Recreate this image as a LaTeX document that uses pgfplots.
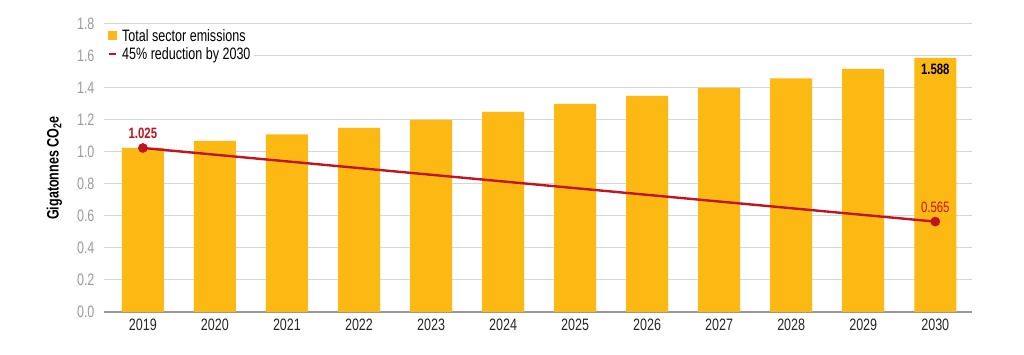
\documentclass[border=0pt]{standalone}
\usepackage{pgfplots}
\pgfplotsset{compat=1.18}
\usepackage{fontspec}
\setmainfont[FakeStretch=0.76]{Liberation Sans}
\definecolor{baryel}{HTML}{FDB913}
\definecolor{linered}{HTML}{C0141F}
\definecolor{tickgray}{HTML}{9A9A9A}
\definecolor{gridgray}{HTML}{D6D6D6}
\begin{document}
\begin{tikzpicture}[x=1pt,y=1pt]
\path[use as bounding box] (0,0) rectangle (1024,355);
\begin{axis}[
  at={(104pt,43pt)}, anchor=south west,
  width=868pt, height=288pt, scale only axis,
  xmin=-0.54, xmax=11.51,
  ymin=0, ymax=1.8,
  ytick={0,0.2,...,1.8},
  /pgf/number format/assume math mode=true,
  yticklabel style={/pgf/number format/fixed, /pgf/number format/fixed zerofill, /pgf/number format/precision=1},
  xtick={0,...,11},
  xticklabels={2019,2020,2021,2022,2023,2024,2025,2026,2027,2028,2029,2030},
  tick label style={font=\fontsize{16.5}{18}\selectfont},
  yticklabel style={text=tickgray, xshift=-6pt},
  xticklabel style={text=black!85, yshift=-3pt},
  ymajorgrids, grid style={gridgray, line width=1pt},
  major tick length=0pt,
  axis x line*=bottom, axis y line*=left,
  x axis line style={draw=gray!80, line width=1.3pt, -},
  y axis line style={draw=none},
  ylabel={\textbf{Gigatonnes CO\textsubscript{2}e}},
  ylabel style={font=\fontsize{16.5}{18}\selectfont, yshift=8pt},
  legend style={at={(0,1)}, anchor=north west, draw=none, fill=white,
    font=\fontsize{16.5}{19}\selectfont, cells={anchor=west}, xshift=0pt, yshift=-1pt,
    inner sep=2pt, row sep=1pt},
  clip=false,
]
\addplot[ybar, bar width=42pt, fill=baryel, draw=none, forget plot] coordinates {
 (0,1.025) (1,1.07) (2,1.11) (3,1.15) (4,1.20) (5,1.25) (6,1.30) (7,1.35) (8,1.40) (9,1.46) (10,1.52) (11,1.588)};
\addlegendimage{legend image code/.code={\path[draw=none,fill=none] (0pt,0pt) -- (14pt,0pt); \fill[baryel,draw=none] (2pt,-4.5pt) rectangle (11pt,4.5pt);}}
\addlegendentry{Total sector emissions}
\addlegendimage{legend image code/.code={\path[draw=none,fill=none] (0pt,0pt) -- (14pt,0pt); \draw[linered, line width=2pt] (3pt,0pt) -- (10pt,0pt);}}
\addlegendentry{45\% reduction by 2030}
\addplot[linered, line width=2.4pt, mark=*, mark size=3.6pt, mark options={fill=linered, draw=linered}, forget plot] coordinates {(0,1.025) (11,0.565)};
\node[text=linered, font=\bfseries\fontsize{15}{16}\selectfont, anchor=south] at (axis cs:0,1.06) {1.025};
\node[text=linered, font=\fontsize{15}{16}\selectfont, anchor=south] at (axis cs:11,0.60) {0.565};
\node[text=black, font=\bfseries\fontsize{15}{16}\selectfont, anchor=north] at (axis cs:11,1.575) {1.588};
\end{axis}
\end{tikzpicture}
\end{document}
